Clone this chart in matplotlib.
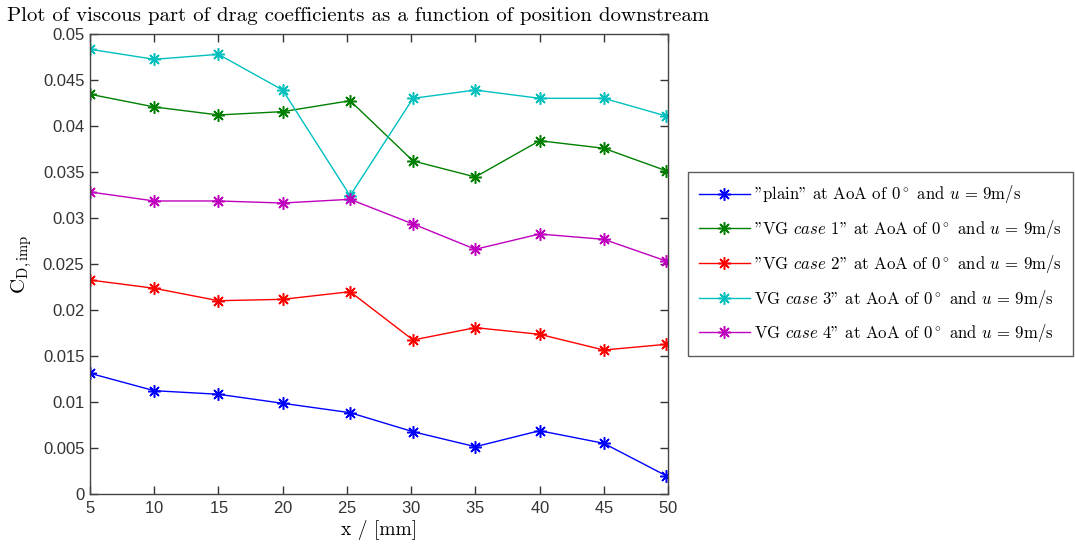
#!/usr/bin/env python3
"""Viscous drag coefficient vs. position downstream"""

import matplotlib; matplotlib.use('Agg')
import matplotlib.pyplot as plt
from matplotlib.ticker import FuncFormatter

##########################################################
x_mm = [5, 10, 15, 20, 25.25, 30.15, 35, 40, 45, 49.85]

cd_plain = [0.01312, 0.01123, 0.01084, 0.00986, 0.00884,
            0.00677, 0.00514, 0.00688, 0.00551, 0.00199]
cd_vg1 = [0.04345, 0.04207, 0.04120, 0.04156, 0.04275,
          0.03620, 0.03446, 0.03840, 0.03758, 0.03514]
cd_vg2 = [0.02326, 0.02236, 0.02101, 0.02116, 0.02199,
          0.01674, 0.01808, 0.01736, 0.01565, 0.01627]
cd_vg3 = [0.04834, 0.04725, 0.04779, 0.04391, 0.03242,
          0.04301, 0.04391, 0.04301, 0.04301, 0.04109]
cd_vg4 = [0.03283, 0.03185, 0.03185, 0.03163, 0.03203,
          0.02935, 0.02660, 0.02826, 0.02768, 0.02533]

labels = [
    r'"plain" at AoA of $0^\circ$ and $u\,=\,9$m/s',
    r'"VG $case$ 1" at AoA of $0^\circ$ and $u\,=\,9$m/s',
    r'"VG $case$ 2" at AoA of $0^\circ$ and $u\,=\,9$m/s',
    r'VG $case$ 3" at AoA of $0^\circ$ and $u\,=\,9$m/s',
    r'VG $case$ 4" at AoA of $0^\circ$ and $u\,=\,9$m/s',
]
colors = [(0, 0, 1), (0, 0.5, 0), (1, 0, 0), (0, 0.75, 0.75), (0.75, 0, 0.75)]

##########################################################
def main():
    plt.rcParams['mathtext.fontset'] = 'cm'
    plt.rcParams['axes.formatter.use_mathtext'] = True

    fig = plt.figure(figsize=(10.75, 5.48), dpi=100)
    ax = fig.add_axes([90/1075, 54/548, 578/1075, 460/548])

    # matlab-style asterisk marker (8 arms)
    for ys, lab, c in zip([cd_plain, cd_vg1, cd_vg2, cd_vg3, cd_vg4], labels, colors):
        ax.plot(x_mm, ys, color=c, marker=(8, 2, 0), markersize=9, markeredgewidth=1.1,
                linewidth=1, label=lab)

    ax.set_xlim(5, 50)
    ax.set_ylim(0, 0.05)
    ax.set_xticks(range(5, 51, 5))
    ax.set_yticks([i * 0.005 for i in range(11)])
    ax.yaxis.set_major_formatter(FuncFormatter(lambda v, p: '{:g}'.format(round(v, 4))))
    ax.tick_params(direction='in', top=True, right=True, length=6, width=1,
                   labelsize=12, colors='#333333', labelcolor='#333333', pad=4)
    for lab in ax.get_xticklabels() + ax.get_yticklabels():
        lab.set_family('Liberation Sans')
    for s in ax.spines.values():
        s.set_color('#444444'); s.set_linewidth(1)

    fig.text(358/1075, 1 - 21/548,
             'Plot of viscous part of drag coefficients as a function of position downstream',
             family='cmr10', fontsize=15, ha='center', va='baseline')
    ax.set_xlabel('x / [mm]', family='cmr10', fontsize=14, labelpad=3)
    ax.set_ylabel(r'$\mathrm{C}_{\mathrm{D,imp}}$', fontsize=15, labelpad=6)

    leg = fig.legend(loc='upper left', bbox_to_anchor=(688/1075, 1 - 172/548),
                     bbox_transform=fig.transFigure, borderaxespad=0,
                     prop={'family': 'cmr10', 'size': 12.05}, fancybox=False,
                     handlelength=3.0, handletextpad=0.25, labelspacing=0.76,
                     borderpad=0.68)
    leg.get_frame().set_edgecolor('#333333')
    leg.get_frame().set_linewidth(1)

    fig.savefig('out.png', dpi=100)

##########################################################
if __name__ == "__main__":
    main()
